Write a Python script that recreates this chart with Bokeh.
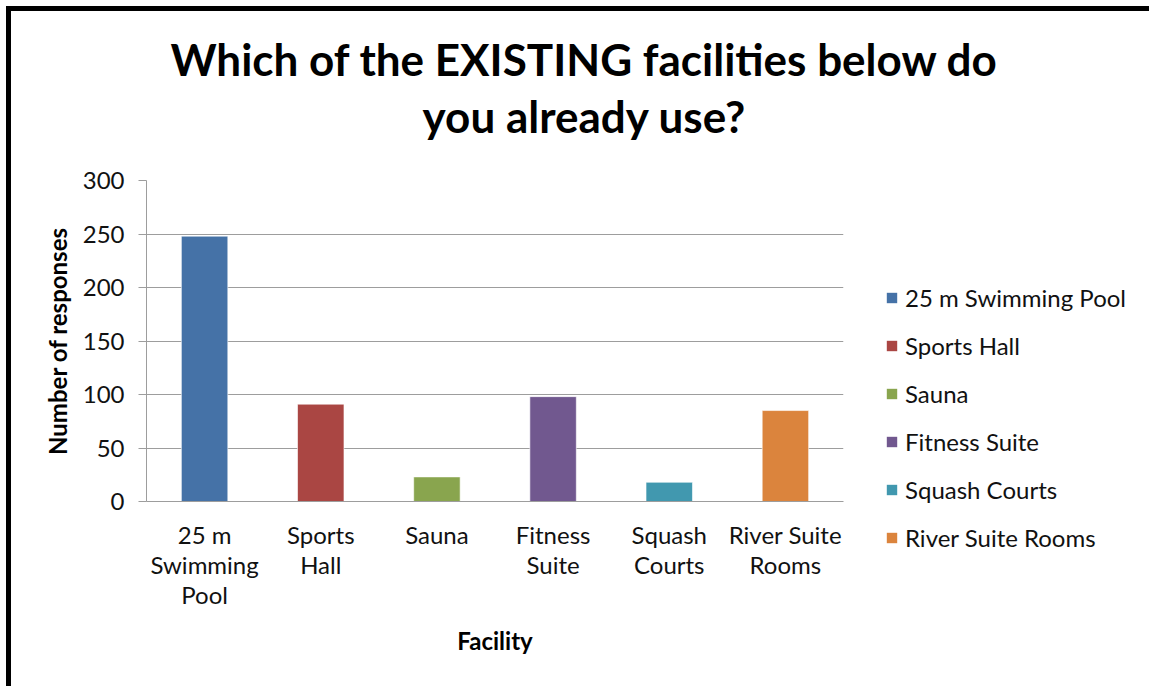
from bokeh.plotting import figure
from bokeh.layouts import column, row
from bokeh.models import FactorRange, FixedTicker, Label, ColumnDataSource, Legend, LegendItem
from bokeh.embed import file_html
from bokeh.resources import INLINE

# ---- data ----
facilities = ["25 m Swimming Pool", "Sports Hall", "Sauna", "Fitness Suite",
              "Squash Courts", "River Suite Rooms"]
tick_labels = ["25 m\nSwimming\nPool", "Sports\nHall", "Sauna", "Fitness\nSuite",
               "Squash\nCourts", "River Suite\nRooms"]
responses = [248, 91, 23, 98, 18, 85]
colors = ["#4572A7", "#AA4643", "#89A54E", "#71588F", "#4198AF", "#DB843D"]
y_ticks = [0, 50, 100, 150, 200, 250, 300]
title_lines = ["Which of the EXISTING facilities below do", "you already use?"]

FONT = "Lato"

source = ColumnDataSource(dict(cat=tick_labels, facility=facilities,
                               responses=responses, color=colors))

# ---------------- title strip ----------------
tf = figure(width=1138, height=149, x_axis_type=None, y_axis_type=None,
            output_backend="svg", toolbar_location=None, min_border=0)
tf.outline_line_color = None
tf.border_fill_color = "white"
tf.background_fill_color = "white"
for i, t in enumerate(title_lines):
    tf.add_layout(Label(x=573, y=102 - 57 * i, x_units="screen", y_units="screen",
                        text=t, text_align="center", text_baseline="alphabetic",
                        text_font=FONT, text_font_style="bold",
                        text_font_size="44px", text_color="black"))

# ---------------- chart ----------------
p = figure(width=837, height=526, x_range=FactorRange(*tick_labels), y_range=(0, 300),
           output_backend="svg", toolbar_location=None,
           min_border_left=135, min_border_top=20, min_border_right=5, min_border_bottom=185)
p.outline_line_color = None
p.background_fill_color = "white"
p.border_fill_color = "white"

r = p.vbar(x="cat", top="responses", width=0.4, source=source,
           fill_color="color", line_color="white", line_alpha=0.6, line_width=1)

p.yaxis.ticker = FixedTicker(ticks=y_ticks)
p.ygrid.grid_line_color = "#9d9d9d"
p.ygrid.grid_line_width = 1
p.xgrid.grid_line_color = None
for ax in (p.xaxis[0], p.yaxis[0]):
    ax.axis_line_color = "#9d9d9d"
    ax.major_label_text_font = FONT
    ax.major_label_text_font_size = "24px"
    ax.major_label_text_color = "#111111"
    ax.axis_label_text_font = FONT
    ax.axis_label_text_font_size = "24px"
    ax.axis_label_text_font_style = "bold"
    ax.axis_label_text_color = "black"
p.yaxis.major_tick_line_color = "#9d9d9d"
p.yaxis.major_tick_out = 8
p.yaxis.major_tick_in = 0
p.yaxis.minor_tick_line_color = None
p.yaxis.major_label_standoff = 14
p.yaxis.axis_label = "Number of responses"
p.yaxis.axis_label_standoff = 8

p.xaxis.major_tick_line_color = None
p.xaxis.minor_tick_line_color = None
p.xaxis.major_label_standoff = 12
p.xaxis.major_label_text_line_height = 1.05
p.xaxis.axis_label = "Facility"
p.xaxis.axis_label_standoff = 14

# ---------------- legend strip ----------------
lf = figure(width=301, height=526, x_range=FactorRange(*tick_labels), y_range=(1000, 2000),
            x_axis_type=None, y_axis_type=None,
            output_backend="svg", toolbar_location=None, min_border=0)
lf.outline_line_color = None
lf.border_fill_color = "white"
lf.background_fill_color = "white"
lf.grid.visible = False
try:
    lf.frame_align = False      # keep this strip's frame independent of the chart's
    legend_y = 134
except AttributeError:
    legend_y = 0
# same bars, lying outside this strip's visible range; used only as legend swatches
lr = lf.vbar(x="cat", top="responses", width=0.4, source=source,
             fill_color="color", line_color=None)
items = [LegendItem(label=f, renderers=[lr], index=i) for i, f in enumerate(facilities)]
lg = Legend(items=items, location=(37, legend_y), padding=0, margin=0,
            border_line_color=None, background_fill_alpha=0,
            glyph_width=13, glyph_height=13, label_text_font=FONT,
            label_text_font_size="24px", label_text_color="#111111",
            label_standoff=7, spacing=19)
lf.add_layout(lg)

layout = column(tf, row(p, lf))
layout.styles = {"margin-left": "6px", "margin-top": "6px",
                 "border-top": "5px solid black", "border-left": "5px solid black"}

open("out.html", "w").write(file_html(layout, INLINE))
